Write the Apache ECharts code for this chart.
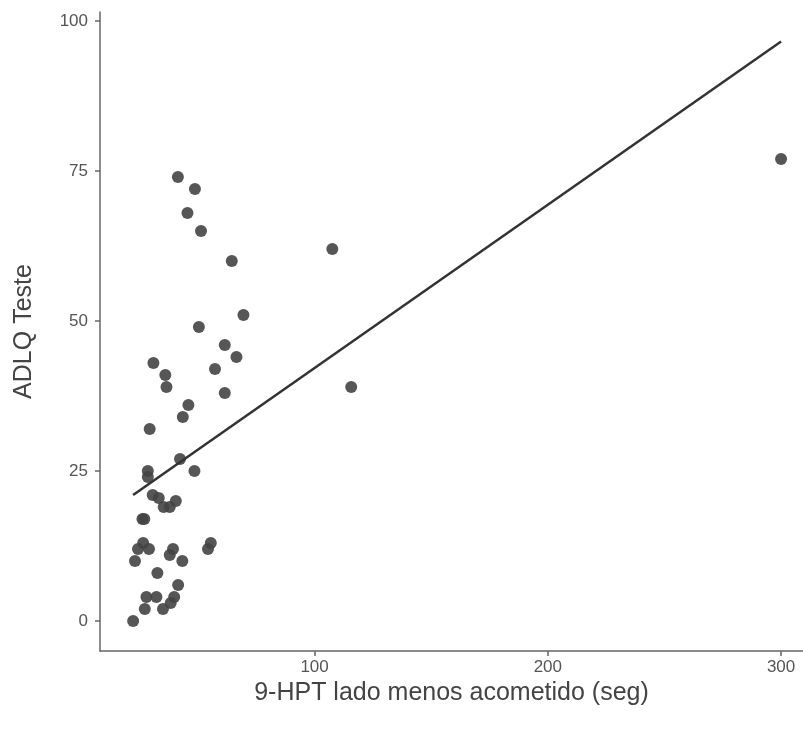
<!DOCTYPE html>
<html>
<head>
<meta charset="utf-8">
<script src="https://cdn.jsdelivr.net/npm/echarts@6/dist/echarts.min.js"></script>
<style>
  html, body { margin: 0; padding: 0; background: #fff; }
  #chart { width: 803px; height: 729px; }
</style>
</head>
<body>
<div id="chart"></div>
<script>
// 9-HPT (seg) x ADLQ
var hptSeg = [41.4, 48.7, 45.5, 51.3, 64.5, 69.5, 50.4, 61.5, 66.5, 30.9, 36.0, 57.3,
  36.5, 61.5, 45.9, 43.5, 29.3, 42.3, 28.5, 28.5, 48.5, 30.6, 33.2, 35.3, 37.9, 40.5,
  26.2, 27.0, 26.5, 24.3, 29.0, 39.3, 37.9, 55.5, 54.3, 23.0, 43.3, 32.6, 41.5,
  27.9, 32.2, 39.8, 38.3, 27.2, 35.0, 22.2, 107.6, 115.7, 300.0];
var adlq = [74, 72, 68, 65, 60, 51, 49, 46, 44, 43, 41, 42,
  39, 38, 36, 34, 32, 27, 25, 24, 25, 21, 20.5, 19, 19, 20,
  17, 17, 13, 12, 12, 12, 11, 13, 12, 10, 10, 8, 6,
  4, 4, 4, 3, 2, 2, 0, 62, 39, 77];
// reta ajustada (extremos)
var fitX = [22.2, 300];
var fitY = [21, 96.6];
var xTicks = [100, 200, 300];
var yTicks = [0, 25, 50, 75, 100];

var points = hptSeg.map(function (x, i) { return [x, adlq[i]]; });
var fitLine = fitX.map(function (x, i) { return [x, fitY[i]]; });

var axisColor = '#666';
var font = '"Liberation Sans", Arial, sans-serif';

var myChart = echarts.init(document.getElementById('chart'));
myChart.setOption({
  animation: false,
  grid: { left: 100, right: 0, top: 12, bottom: 78 },
  xAxis: {
    type: 'value',
    min: 8,
    max: 309.4,
    name: '9-HPT lado menos acometido (seg)',
    nameLocation: 'middle',
    nameGap: 23,
    nameTextStyle: { fontFamily: font, fontSize: 25, color: '#444' },
    splitLine: { show: false },
    axisLine: { onZero: false, lineStyle: { color: axisColor, width: 1.5 } },
    axisTick: { customValues: xTicks, length: 5, lineStyle: { color: axisColor, width: 1.5 } },
    axisLabel: { customValues: xTicks, margin: 8, fontFamily: font, fontSize: 17, color: '#555' }
  },
  yAxis: {
    type: 'value',
    min: -5,
    max: 101.5,
    name: 'ADLQ Teste',
    nameLocation: 'middle',
    nameGap: 63,
    nameTextStyle: { fontFamily: font, fontSize: 25, color: '#444' },
    splitLine: { show: false },
    axisLine: { onZero: false, lineStyle: { color: axisColor, width: 1.5 } },
    axisTick: { customValues: yTicks, length: 5, lineStyle: { color: axisColor, width: 1.5 } },
    axisLabel: { customValues: yTicks, margin: 12, fontFamily: font, fontSize: 17, color: '#555' }
  },
  series: [
    {
      type: 'scatter',
      data: points,
      symbolSize: 12,
      itemStyle: { color: '#444', opacity: 0.9 }
    },
    {
      type: 'line',
      data: fitLine,
      symbol: 'none',
      lineStyle: { color: '#333', width: 2.5 }
    }
  ]
});
</script>
</body>
</html>
